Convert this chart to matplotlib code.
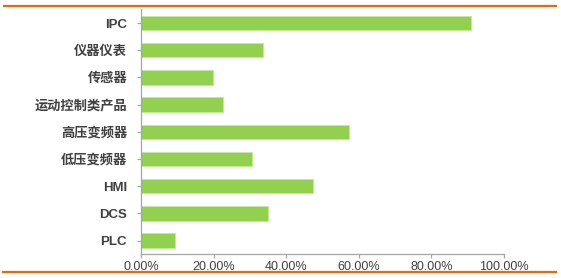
import matplotlib
matplotlib.use("Agg")
import matplotlib.pyplot as plt
from matplotlib.lines import Line2D
from matplotlib.ticker import FuncFormatter

plt.rcParams['font.family'] = ['Liberation Sans', 'Noto Sans CJK SC']

categories = ["IPC", "仪器仪表", "传感器", "运动控制类产品", "高压变频器", "低压变频器", "HMI", "DCS", "PLC"]
values = [90.9, 33.6, 19.8, 22.6, 57.3, 30.5, 47.4, 35.0, 9.4]
xticks = [0, 20, 40, 60, 80, 100]

W, H = 561, 278
fig = plt.figure(figsize=(W / 100, H / 100), dpi=100)
ax = fig.add_axes([141 / W, (H - 254.3) / H, (504 - 141) / W, (254.3 - 9.4) / H])

y = list(range(len(categories)))[::-1]
ax.barh(y, values, height=0.53, color="#92d050", edgecolor="#c5e8a0", linewidth=0.6)
ax.set_yticks(y)
ax.set_yticklabels(categories, fontweight="bold")
ax.set_ylim(-0.5, len(categories) - 0.5)
ax.set_xlim(0, 100)
ax.set_xticks(xticks)
ax.xaxis.set_major_formatter(FuncFormatter(lambda v, p: f"{v:.2f}%"))

for s in ["top", "right"]:
    ax.spines[s].set_visible(False)
for s in ["left", "bottom"]:
    ax.spines[s].set_color("#a6a6a6")
    ax.spines[s].set_linewidth(0.9)
ax.tick_params(axis="both", colors="#a6a6a6", length=3, width=0.9, direction="out")
ax.tick_params(axis="y", labelcolor="#404040", labelsize=9.5, pad=7)
ax.tick_params(axis="x", labelcolor="#404040", labelsize=9, pad=2)

fig.add_artist(Line2D([4 / W, 556 / W], [(H - 6) / H, (H - 6) / H], color="#e46c0a", linewidth=1.6))
fig.add_artist(Line2D([3 / W, 556 / W], [(H - 272) / H, (H - 272) / H], color="#e46c0a", linewidth=1.6))

fig.savefig("out.png", dpi=100)
